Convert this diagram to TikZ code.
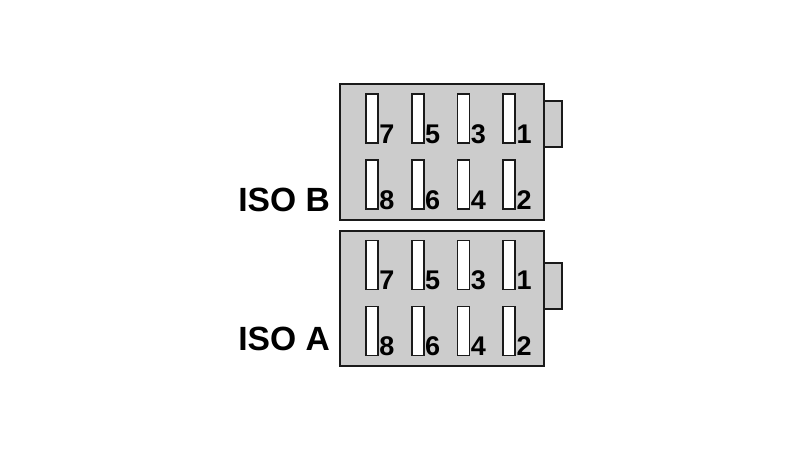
\documentclass[tikz,border=0pt]{standalone}
\usepackage{fontspec}
\setmainfont{Liberation Sans}
\usetikzlibrary{positioning}
\usetikzlibrary{calc}
\definecolor{housingfill}{HTML}{CCCCCC}
\definecolor{edgecol}{HTML}{1A1A1A}
\begin{document}
\begin{tikzpicture}[x = 1pt, y = 1pt, on grid, node distance = 45.7pt,
	housing/.style = {rectangle, draw = edgecol, fill = housingfill, line width = 2pt, minimum width = 204pt, minimum height = 135.5pt, outer sep = 0pt},
	tab/.style = {rectangle, draw = edgecol, fill = housingfill, line width = 2pt, minimum width = 18pt, minimum height = 46pt, outer sep = 0pt, anchor = west},
	slot/.style = {rectangle, draw = edgecol, fill = white, line width = 1.6pt, minimum width = 12pt, minimum height = 49pt, outer sep = 0pt},
	pin/.style = {inner sep = 0pt, anchor = base, text = black, font = \fontsize{27}{27}\selectfont\bfseries},
	iso/.style = {inner sep = 0pt, anchor = base east, text = black, font = \fontsize{33.6}{33.6}\selectfont\bfseries}]
	\useasboundingbox (0,0) rectangle (800,-450);
	\node[tab] (tabB) at ($(544,-151.75) + (0,27.75)$) {};
	\node[tab] (tabA) at ($(544,-298.25) + (0,12.75)$) {};
	\node[housing] (B) at (442,-151.75) {};
	\node[housing] (A) at (442,-298.25) {};
	\foreach \g in {B, A} {
		\node[slot] (s7\g) at ($(\g.north west) + (32,-34.5)$) {};
		\node[slot] (s5\g) [right = of s7\g] {};
		\node[slot] (s3\g) [right = of s5\g] {};
		\node[slot] (s1\g) [right = of s3\g] {};
		\node[slot] (s8\g) [node distance = 66pt, below = of s7\g] {};
		\node[slot] (s6\g) [right = of s8\g] {};
		\node[slot] (s4\g) [right = of s6\g] {};
		\node[slot] (s2\g) [right = of s4\g] {};
		\foreach \n in {1,...,8} {
			\node[pin] (n\n\g) at ($(s\n\g.south) + (15,-0.3)$) {\n};
		}
	}
	\node[iso] (isoB) at ($(B.south west) + (-10,8)$) {ISO B};
	\node[iso] (isoA) at ($(A.south west) + (-10,16)$) {ISO A};
\end{tikzpicture}
\end{document}
